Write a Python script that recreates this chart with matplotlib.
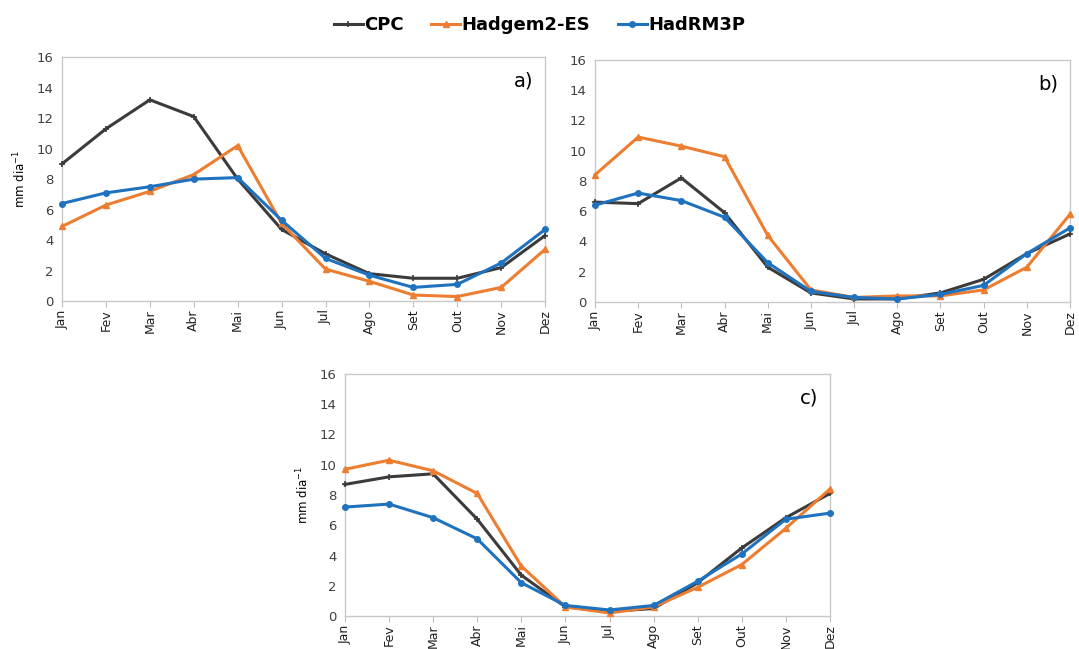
import numpy as np
import matplotlib.pyplot as plt

months = ["Jan", "Fev", "Mar", "Abr", "Mai", "Jun", "Jul", "Ago", "Set", "Out", "Nov", "Dez"]

# panel a)
cpc_a = [9.0, 11.3, 13.2, 12.1, 8.0, 4.7, 3.1, 1.8, 1.5, 1.5, 2.2, 4.3]
hadgem_a = [4.9, 6.3, 7.2, 8.3, 10.2, 5.1, 2.1, 1.3, 0.4, 0.3, 0.9, 3.4]
hadrm_a = [6.4, 7.1, 7.5, 8.0, 8.1, 5.3, 2.8, 1.7, 0.9, 1.1, 2.5, 4.7]

# panel b)
cpc_b = [6.6, 6.5, 8.2, 5.9, 2.3, 0.6, 0.2, 0.2, 0.6, 1.5, 3.2, 4.5]
hadgem_b = [8.4, 10.9, 10.3, 9.6, 4.4, 0.8, 0.3, 0.4, 0.4, 0.8, 2.3, 5.8]
hadrm_b = [6.4, 7.2, 6.7, 5.6, 2.6, 0.7, 0.3, 0.2, 0.5, 1.1, 3.2, 4.9]

# panel c)
cpc_c = [8.7, 9.2, 9.4, 6.4, 2.7, 0.6, 0.3, 0.5, 2.2, 4.5, 6.5, 8.1]
hadgem_c = [9.7, 10.3, 9.6, 8.1, 3.3, 0.6, 0.2, 0.6, 1.9, 3.4, 5.8, 8.4]
hadrm_c = [7.2, 7.4, 6.5, 5.1, 2.2, 0.7, 0.4, 0.7, 2.3, 4.1, 6.4, 6.8]

C_CPC = "#3b3b3b"
C_HADGEM = "#ED7D31"
C_HADRM = "#1F72BE"

fig = plt.figure(figsize=(10.79, 6.49), dpi=100)

panels = [
    ("a)", [0.0575, 0.536, 0.4477, 0.376], cpc_a, hadgem_a, hadrm_a, True),
    ("b)", [0.5514, 0.5347, 0.4403, 0.373], cpc_b, hadgem_b, hadrm_b, False),
    ("c)", [0.3197, 0.0508, 0.4495, 0.373], cpc_c, hadgem_c, hadrm_c, True),
]

x = np.arange(len(months))
handles = None
for tag, pos, cpc, hadgem, hadrm, ylab in panels:
    ax = fig.add_axes(pos)
    l1, = ax.plot(x, cpc, color=C_CPC, lw=2.2, marker="+", ms=5, mew=1.2,
                  label="CPC", clip_on=False, zorder=3)
    l2, = ax.plot(x, hadgem, color=C_HADGEM, lw=2.2, marker="^", ms=5,
                  label="Hadgem2-ES", clip_on=False, zorder=3)
    l3, = ax.plot(x, hadrm, color=C_HADRM, lw=2.2, marker="o", ms=4,
                  label="HadRM3P", clip_on=False, zorder=3)
    handles = [l1, l2, l3]
    ax.set_xlim(0, 11)
    ax.set_ylim(0, 16)
    ax.set_yticks(range(0, 17, 2))
    ax.set_xticks(x)
    ax.set_xticklabels(months, rotation=90, fontsize=9)
    ax.tick_params(axis="y", labelsize=9.5, length=0, pad=6, colors="#404040")
    ax.tick_params(axis="x", length=4, color="#bfbfbf", labelcolor="#202020", pad=2)
    for sp in ax.spines.values():
        sp.set_color("#c8c8c8")
        sp.set_linewidth(1.0)
    ax.text(0.975, 0.94, tag, transform=ax.transAxes, ha="right", va="top", fontsize=14)
    if ylab:
        ax.set_ylabel("mm dia$^{-1}$", fontsize=8.5, labelpad=6)

fig.legend(handles=handles, loc="upper center", bbox_to_anchor=(0.5, 1.0), ncol=3,
           frameon=False, prop={"weight": "bold", "size": 13}, handlelength=1.6,
           handletextpad=0.1, columnspacing=1.5)

fig.savefig("out.png", dpi=100)
